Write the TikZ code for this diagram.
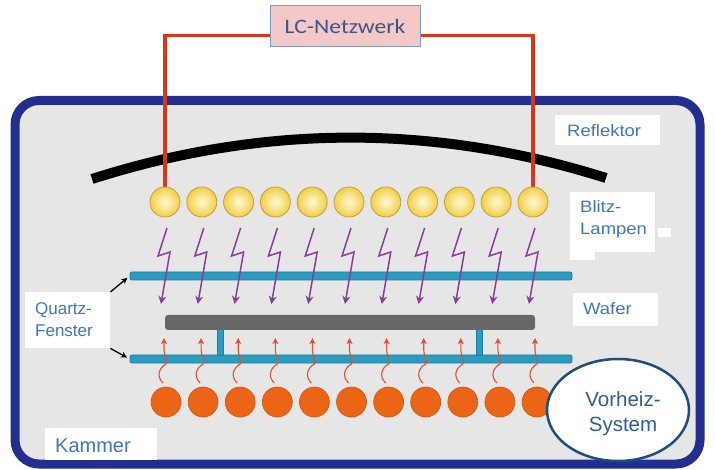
\documentclass[tikz,border=0pt]{standalone}
\usepackage{fontspec}
\setmainfont{Liberation Sans}
\newfontfamily\lcfont[FakeStretch=1.15]{Carlito}
\newfontfamily\widefont[FakeStretch=1.12]{Liberation Sans}
\usetikzlibrary{calc,arrows.meta,shapes.geometric}

\definecolor{chamberblue}{HTML}{232F8E}
\definecolor{chambergrey}{HTML}{E6E6E6}
\definecolor{wirered}{HTML}{D8361A}
\definecolor{lcpink}{HTML}{F5C8C8}
\definecolor{lcedge}{HTML}{7C9BCB}
\definecolor{lctext}{HTML}{3A5688}
\definecolor{lampcore}{HTML}{FFF8D6}
\definecolor{lampyellow}{HTML}{F2CF45}
\definecolor{lampedge}{HTML}{C39E38}
\definecolor{boltpurple}{HTML}{8A3C9E}
\definecolor{quartz}{HTML}{2B9CC0}
\definecolor{quartzedge}{HTML}{1C7E9E}
\definecolor{wafergrey}{HTML}{676767}
\definecolor{heatorange}{HTML}{EC6516}
\definecolor{heatedge}{HTML}{CF5410}
\definecolor{wavered}{HTML}{E4502C}
\definecolor{labelblue}{HTML}{3D77BC}
\definecolor{ovalblue}{HTML}{1F4E79}
\definecolor{ovaltext}{HTML}{2F5E98}

\tikzset{
  chamber/.style={draw=chamberblue, fill=chambergrey, line width=9pt, rounded corners=24pt},
  reflector/.style={draw=black, line width=10pt},
  wire/.style={draw=wirered, line width=3.5pt},
  lcbox/.style={draw=lcedge, fill=lcpink, line width=1pt, minimum width=150pt,
    minimum height=41pt, inner sep=0pt, text=lctext, font=\lcfont\fontsize{20.5}{24}\selectfont},
  lamp/.style={circle, draw=lampedge, line width=0.8pt, inner color=lampcore,
    outer color=lampyellow, minimum size=30pt, inner sep=0pt},
  heater/.style={circle, draw=heatedge, line width=0.6pt, fill=heatorange,
    minimum size=30pt, inner sep=0pt},
  window/.style={draw=quartzedge, fill=quartz, line width=0.8pt, rounded corners=2pt,
    minimum height=8pt, minimum width=442pt, inner sep=0pt},
  waferbar/.style={fill=wafergrey, rounded corners=3pt, minimum height=15pt,
    minimum width=370pt, inner sep=0pt},
  post/.style={draw=quartzedge, fill=quartz, line width=0.5pt},
  bolt/.style={draw=boltpurple, line width=1.5pt, line join=miter,
    -{Stealth[length=8pt,width=8pt,inset=2.5pt]}},
  wave/.style={draw=wavered, line width=1.1pt, -{Stealth[length=6pt,width=6pt,inset=1.5pt]}},
  labelbox/.style={fill=white, inner sep=0pt, anchor=north west},
  labeltext/.style={text=labelblue, inner sep=0pt, anchor=base west},
  pointer/.style={draw=black, line width=1.3pt, shorten >=3pt,
    -{Stealth[length=6pt,width=6pt]}},
  preheat/.style={ellipse, draw=ovalblue, fill=white, line width=2.5pt,
    minimum width=142pt, minimum height=102pt, inner sep=0pt},
}

\begin{document}
\begin{tikzpicture}[x=1pt, y=-1pt]
  \useasboundingbox[fill=white] (0,0) rectangle (715,470);

  % process chamber
  \draw[chamber] (15,100.5) rectangle (700,464);

  % curved reflector above the lamps
  \draw[reflector] (92,179) .. controls (264,124) and (435,124) .. (606,178);

  % flash lamps and LC network
  \foreach \i in {1,...,11}
    \path ({165+36.8*(\i-1)},202) coordinate (lampc\i);
  \node[lcbox] (lc) at (345,26.5) {LC-Netzwerk};
  \draw[wire] ([yshift=-9pt]lc.west) -| (lampc1);
  \draw[wire] ([yshift=-9pt]lc.east) -| (lampc11);
  \foreach \i in {1,...,11}
    \node[lamp] (lamp\i) at (lampc\i) {};

  % quartz windows, wafer and its supports
  \node[window] (upperwin) at (351,276) {};
  \node[window] (lowerwin) at (351,359) {};
  \draw[post] (217,329) rectangle (223,355);
  \draw[post] (476,329) rectangle (482,355);
  \node[waferbar] (wafer) at (350,322.5) {};

  % flash light towards the wafer
  \foreach \i in {1,...,11}
    \draw[bolt] ($(lamp\i)+(2,26)$) -- ($(lamp\i)+(-7,54)$) -- ($(lamp\i)+(5,50)$)
      -- ($(lamp\i)+(-4,102)$);

  % preheating lamps and their heat radiation
  \foreach \i in {1,...,11}
    \node[heater] (heat\i) at ({166+37.1*(\i-1)},402) {};
  \foreach \i in {1,...,11}
    \draw[wave] ($(heat\i)+(-3,-19)$) .. controls ($(heat\i)+(-10,-26)$) and ($(heat\i)+(-7,-34)$)
      .. ($(heat\i)+(0,-38)$) .. controls ($(heat\i)+(3,-41)$) and ($(heat\i)+(-2,-45)$)
      .. ($(heat\i)+(-2,-52)$) -- ($(heat\i)+(-2,-64)$);

  % labels
  \node[labelbox, minimum width=105pt, minimum height=30pt] (reflbox) at (555,115) {};
  \node[labeltext, font=\widefont\fontsize{16.5}{20}\selectfont] (refltext) at (567,137) {Reflektor};

  \node[labelbox, minimum width=85pt, minimum height=60pt] (blitzbox) at (570,192) {};
  \node[labelbox, minimum width=13pt, minimum height=9pt] (blitzpatchA) at (658,228) {};
  \node[labelbox, minimum width=25pt, minimum height=9pt] (blitzpatchB) at (570,251) {};
  \node[labeltext, font=\widefont\fontsize{16.5}{20}\selectfont] (blitztext) at (580,213) {Blitz-};
  \node[labeltext, font=\widefont\fontsize{16.5}{20}\selectfont] (lampentext) at (580,235) {Lampen};

  \node[labelbox, minimum width=85pt, minimum height=33pt] (waferbox) at (573,293) {};
  \node[labeltext, font=\widefont\fontsize{16.5}{20}\selectfont] (wafertext) at (583,315) {Wafer};

  \node[labelbox, minimum width=85pt, minimum height=56pt] (quartzbox) at (25,292) {};
  \node[labeltext, font=\fontsize{17}{20}\selectfont] (quartztext) at (35,315) {Quartz-};
  \node[labeltext, font=\fontsize{17}{20}\selectfont] (fenstertext) at (35,337) {Fenster};
  \draw[pointer] (quartzbox.north east) -- (upperwin.west);
  \draw[pointer] (quartzbox.south east) -- (lowerwin.west);

  \node[labelbox, minimum width=112pt, minimum height=32pt] (kammerbox) at (45,428) {};
  \node[labeltext, font=\fontsize{20}{24}\selectfont] (kammertext) at (55,452) {Kammer};

  % preheating system
  \node[preheat] (preheat) at (618,410) {};
  \node[text=ovaltext, inner sep=0pt, anchor=base] (vorheiz) at (623,406.5)
    {\fontsize{20.5}{24}\selectfont Vorheiz-};
  \node[text=ovaltext, inner sep=0pt, anchor=base] (system) at (623,431.5)
    {\fontsize{20.5}{24}\selectfont System};
\end{tikzpicture}
\end{document}
